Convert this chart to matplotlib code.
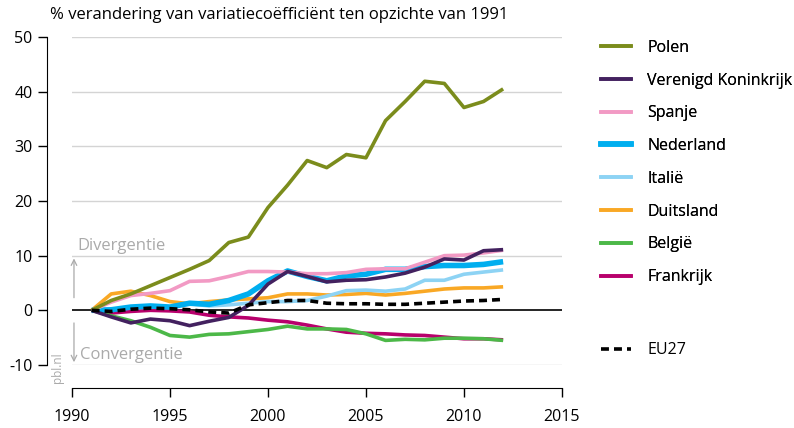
import matplotlib.pyplot as plt
from matplotlib.lines import Line2D

plt.rcParams["font.family"] = ["Open Sans", "DejaVu Sans"]
plt.rcParams["axes.unicode_minus"] = False

years = list(range(1991, 2013))

polen = [0, 1.8, 3.0, 4.5, 6.0, 7.5, 9.1, 12.4, 13.4, 18.8, 22.9, 27.4, 26.1, 28.5,
         27.9, 34.7, 38.2, 41.9, 41.5, 37.1, 38.2, 40.5]
verenigd_koninkrijk = [0, -1.2, -2.3, -1.6, -1.9, -2.8, -2.0, -1.3, 0.9, 4.8, 7.1, 6.2,
                       5.2, 5.5, 5.6, 6.1, 6.8, 7.9, 9.4, 9.2, 10.9, 11.1]
spanje = [0, 1.5, 2.7, 3.1, 3.6, 5.3, 5.4, 6.2, 7.1, 7.1, 7.0, 6.7, 6.7, 6.9, 7.5, 7.6,
          7.6, 8.8, 10.0, 10.1, 10.5, 11.0]
nederland = [0, 0.1, 0.6, 0.8, 0.6, 1.3, 1.1, 1.8, 3.0, 5.4, 7.2, 6.2, 5.4, 6.3, 6.6,
             7.5, 7.5, 8.0, 8.2, 8.2, 8.4, 8.9]
italie = [0, 0.2, 0.4, 0.6, 0.5, 1.2, 0.8, 1.0, 1.3, 1.6, 1.6, 1.8, 2.6, 3.6, 3.7, 3.5,
          3.9, 5.5, 5.5, 6.6, 7.0, 7.4]
duitsland = [0, 3.0, 3.5, 2.7, 1.6, 1.2, 1.6, 1.9, 2.1, 2.3, 3.0, 3.0, 2.8, 2.9, 3.1,
             2.8, 3.1, 3.5, 3.9, 4.1, 4.1, 4.3]
belgie = [0, -1.0, -1.9, -3.1, -4.6, -4.9, -4.4, -4.3, -3.9, -3.5, -2.9, -3.4, -3.4,
          -3.5, -4.3, -5.5, -5.3, -5.4, -5.1, -5.1, -5.2, -5.5]
frankrijk = [0, -0.5, -0.2, 0.0, -0.1, -0.3, -0.9, -1.2, -1.4, -1.8, -2.1, -2.7, -3.4,
             -4.0, -4.2, -4.3, -4.5, -4.6, -4.9, -5.2, -5.2, -5.4]
eu27 = [0, -0.2, 0.2, 0.4, 0.3, 0.1, -0.3, -0.5, 1.0, 1.4, 1.8, 1.8, 1.3, 1.2, 1.2, 1.1,
        1.1, 1.3, 1.5, 1.7, 1.8, 2.0]

countries = ["Polen", "Verenigd Koninkrijk", "Spanje", "Nederland", "Italië",
             "Duitsland", "België", "Frankrijk"]
series = [polen, verenigd_koninkrijk, spanje, nederland, italie, duitsland, belgie,
          frankrijk]
colors = ["#7b8c1c", "#43215f", "#f29ac4", "#00aeef", "#8dd3f4", "#f9a825",
          "#4cb848", "#b8006c"]
widths = [2.6, 2.6, 2.6, 4.0, 2.6, 2.6, 2.6, 2.6]

fig = plt.figure(figsize=(7.94, 4.28), dpi=100)
ax = fig.add_axes([0.0907, 0.1472, 0.617, 0.7664])

grey = "#aaaaaa"
for y in [-10, 10, 20, 30, 40, 50]:
    ax.axhline(y, color="#d4d4d4", lw=1, zorder=0)
ax.axhline(0, color="black", lw=1.2, zorder=1)

# draw in reverse so Polen ends up on top, like the source
for name, vals, c, w in list(zip(countries, series, colors, widths))[::-1]:
    ax.plot(years, vals, color=c, lw=w, solid_capstyle="butt", zorder=3)
ax.plot(years, eu27, color="black", lw=2.6, ls=(0, (2.2, 1.4)), zorder=4)

# divergence / convergence hints
ax.annotate("", xy=(1990.1, 10), xytext=(1990.1, 1.8),
            arrowprops=dict(arrowstyle="->", color=grey, lw=0.9))
ax.annotate("", xy=(1990.1, -10), xytext=(1990.1, -1.8),
            arrowprops=dict(arrowstyle="->", color=grey, lw=0.9))
ax.text(1990.25, 11.7, "Divergentie", color=grey, fontsize=12, va="center")
ax.text(1990.4, -8.2, "Convergentie", color=grey, fontsize=12, va="center")
fig.text(0.072, 0.142, "pbl.nl", rotation=90, color=grey, fontsize=8.5,
         ha="center", va="center")

ax.set_xlim(1990, 2015)
ax.set_ylim(-10, 50)
ax.set_xticks([1990, 1995, 2000, 2005, 2010, 2015])
ax.set_yticks([-10, 0, 10, 20, 30, 40, 50])

for side in ["top", "right"]:
    ax.spines[side].set_visible(False)
ax.spines["left"].set_position(("outward", 18))
ax.spines["bottom"].set_position(("outward", 16.5))
ax.spines["left"].set_bounds(-10, 50)
ax.spines["bottom"].set_bounds(1990, 2015)
ax.tick_params(axis="both", length=6.5, width=1, labelsize=11.5)
ax.tick_params(axis="y", pad=4)
ax.tick_params(axis="x", pad=9)

fig.text(0.063, 0.965, "% verandering van variatiecoëfficiënt ten opzichte van 1991",
         fontsize=12, va="center")

handles = [Line2D([], [], color=c, lw=w) for c, w in zip(colors, widths)]
leg = fig.legend(handles, countries, loc="upper left", bbox_to_anchor=(0.749, 0.922),
                 frameon=False, fontsize=11.5, handlelength=1.9, handletextpad=1.0,
                 labelspacing=1.05, borderaxespad=0)
fig.add_artist(leg)
eu_handle = Line2D([], [], color="black", lw=2.6, ls=(0, (2.2, 1.4)))
fig.legend([eu_handle], ["EU27"], loc="center left", bbox_to_anchor=(0.749, 0.182),
           frameon=False, fontsize=11.5, handlelength=1.9, handletextpad=1.0,
           borderaxespad=0)

fig.savefig("out.png", dpi=100)
